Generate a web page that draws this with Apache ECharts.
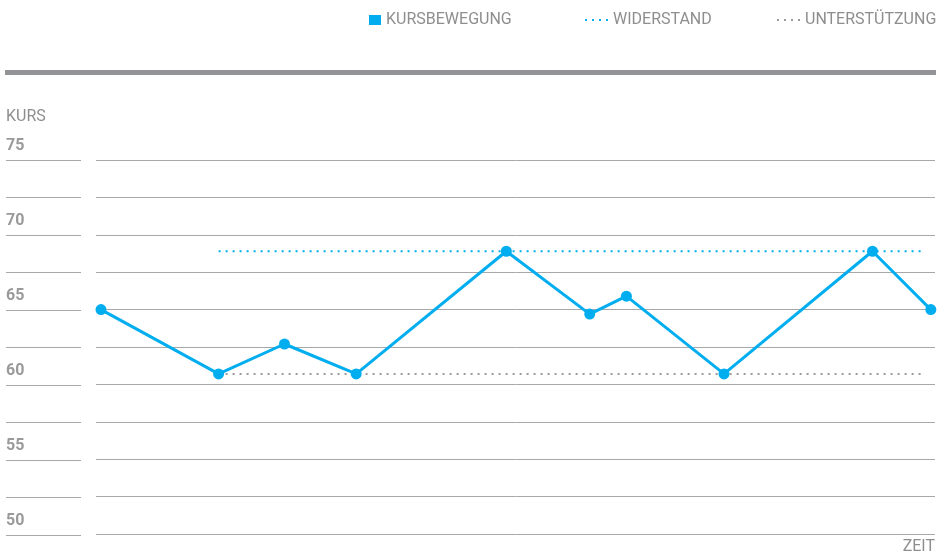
<!DOCTYPE html>
<html>
<head>
<meta charset="utf-8">
<script src="https://cdn.jsdelivr.net/npm/echarts@6/dist/echarts.min.js"></script>
<style>
  html, body { margin: 0; padding: 0; background: #fff; }
  #chart { width: 948px; height: 555px; }
</style>
</head>
<body>
<div id="chart"></div>
<script>
// Kursverlauf (Zeit als Index 0..100)
const zeit = [0.3, 14.4, 22.3, 30.9, 48.9, 58.9, 63.3, 75, 92.8, 99.8];
const kurs = [65, 60.7, 62.7, 60.7, 68.9, 64.7, 65.9, 60.7, 68.9, 65];

// Widerstand / Unterstützung
const levelRange = [14.4, 98.6];
const widerstand = 68.9;
const unterstuetzung = 60.7;

const yLabels = [50, 55, 60, 65, 70, 75];
const legendNames = ["KURSBEWEGUNG", "WIDERSTAND", "UNTERSTÜTZUNG"];

const BLUE = "#00aeef";
const GREY_DOT = "#9b9b9b";
const TEXT = "#8e8e8e";
const GRID_LINE = "#a8a8a8";
const FONT = "Roboto";

const dottedIcon = "path://M0,0h2v2h-2zM7,0h2v2h-2zM14,0h2v2h-2zM21,0h2v2h-2z";

const chart = echarts.init(document.getElementById("chart"));

function legendAt(left, name, icon, w, h) {
  return {
    left: left,
    top: 7,
    icon: icon,
    itemWidth: w,
    itemHeight: h,
    data: [name],
    selectedMode: false,
    textStyle: { color: TEXT, fontFamily: FONT, fontSize: 16 },
  };
}

const yBase = { type: "value", min: 50, max: 75, interval: 2.5 };

chart.setOption({
  animation: false,
  legend: [
    legendAt(364, legendNames[0], "rect", 12, 10),
    legendAt(580, legendNames[1], dottedIcon, 23, 2),
    legendAt(772, legendNames[2], dottedIcon, 23, 2),
  ],
  graphic: [
    { type: "rect", left: 5, top: 70, shape: { width: 931, height: 5 }, style: { fill: "#939498" } },
  ],
  grid: [
    { left: 6, width: 75, top: 160, bottom: 20 },
    { left: 96, right: 13, top: 160, bottom: 20 },
  ],
  xAxis: [
    { gridIndex: 0, type: "value", min: 0, max: 1, show: false },
    {
      gridIndex: 1,
      type: "value",
      min: -0.3,
      max: 100.3,
      name: "ZEIT",
      nameLocation: "end",
      nameGap: 0,
      nameTextStyle: {
        color: TEXT, fontFamily: FONT, fontSize: 16,
        align: "right", verticalAlign: "top", padding: [5, 0, 0, 0],
      },
      axisLine: { show: false },
      axisTick: { show: false },
      axisLabel: { show: false },
      splitLine: { show: false },
    },
  ],
  yAxis: [
    Object.assign({}, yBase, {
      gridIndex: 0,
      name: "KURS",
      nameLocation: "end",
      nameGap: 35,
      nameTextStyle: { color: TEXT, fontFamily: FONT, fontSize: 16, align: "left" },
      axisLine: { show: false },
      axisTick: { show: false },
      axisLabel: {
        inside: true,
        margin: 0,
        color: "#9a9a9a",
        fontFamily: FONT,
        fontSize: 16,
        fontWeight: "bold",
        verticalAlign: "bottom",
        padding: [0, 0, 6, 0],
        formatter: (v) => (yLabels.includes(v) ? String(v) : ""),
      },
      splitLine: { lineStyle: { color: GRID_LINE, width: 1 } },
    }),
    Object.assign({}, yBase, {
      gridIndex: 1,
      axisLine: { show: false },
      axisTick: { show: false },
      axisLabel: { show: false },
      splitLine: { lineStyle: { color: GRID_LINE, width: 1 } },
    }),
  ],
  series: [
    {
      name: legendNames[1],
      type: "line",
      xAxisIndex: 1,
      yAxisIndex: 1,
      data: levelRange.map((x) => [x, widerstand]),
      symbol: "none",
      itemStyle: { color: BLUE },
      lineStyle: { color: BLUE, width: 2, type: [2, 5] },
      z: 2,
    },
    {
      name: legendNames[2],
      type: "line",
      xAxisIndex: 1,
      yAxisIndex: 1,
      data: levelRange.map((x) => [x, unterstuetzung]),
      symbol: "none",
      itemStyle: { color: GREY_DOT },
      lineStyle: { color: GREY_DOT, width: 2, type: [2, 5] },
      z: 2,
    },
    {
      name: legendNames[0],
      type: "line",
      xAxisIndex: 1,
      yAxisIndex: 1,
      data: zeit.map((x, i) => [x, kurs[i]]),
      symbol: "circle",
      symbolSize: 11,
      itemStyle: { color: BLUE },
      lineStyle: { color: BLUE, width: 3 },
      z: 3,
    },
  ],
});
</script>
</body>
</html>
